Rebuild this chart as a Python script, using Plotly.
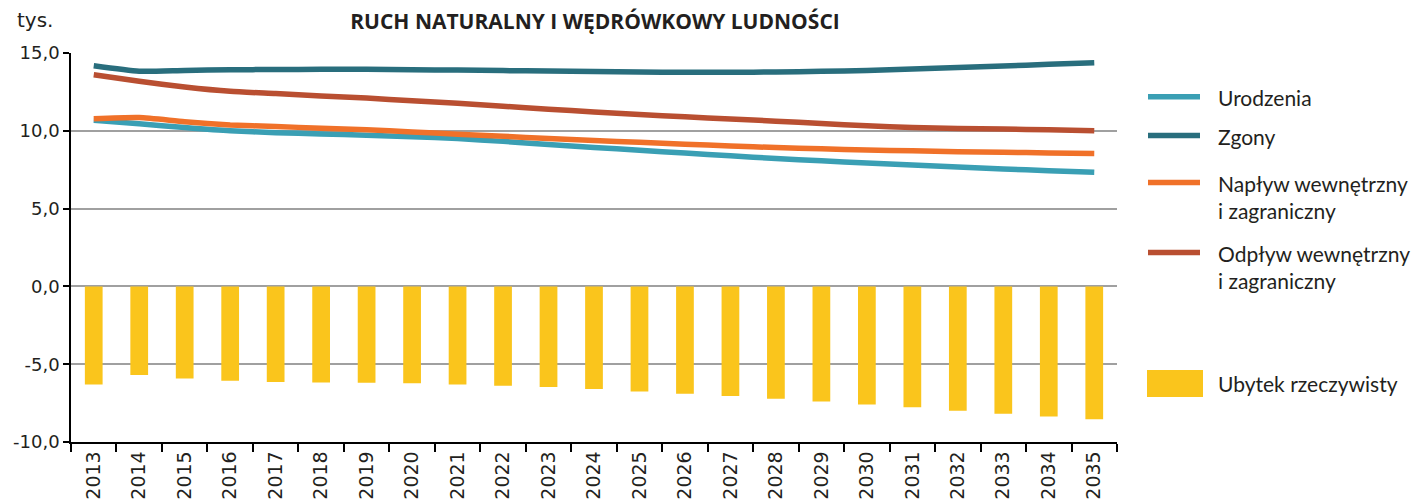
import plotly.graph_objects as go

# Colors
c_urodzenia = 'rgb(58,159,180)'
c_zgony = 'rgb(41,110,125)'
c_naplyw = 'rgb(240,113,41)'
c_odplyw = 'rgb(185,79,49)'
c_ubytek = 'rgb(250,197,28)'
text_color = 'rgb(35,31,32)'

years = [str(y) for y in range(2013, 2036)]

urodzenia = [10.68, 10.45, 10.21, 10.0, 9.88, 9.80, 9.72, 9.62, 9.50, 9.32, 9.12, 8.93,
             8.75, 8.57, 8.39, 8.22, 8.07, 7.93, 7.80, 7.67, 7.55, 7.44, 7.34]
zgony = [14.18, 13.83, 13.88, 13.92, 13.94, 13.95, 13.95, 13.93, 13.90, 13.87, 13.84, 13.81,
         13.78, 13.76, 13.76, 13.78, 13.82, 13.88, 13.97, 14.07, 14.17, 14.27, 14.37]
naplyw = [10.77, 10.85, 10.58, 10.38, 10.27, 10.17, 10.06, 9.93, 9.78, 9.65, 9.50, 9.38,
          9.26, 9.14, 9.03, 8.92, 8.84, 8.77, 8.71, 8.66, 8.62, 8.58, 8.54]
odplyw = [13.60, 13.18, 12.82, 12.54, 12.39, 12.24, 12.10, 11.93, 11.77, 11.58, 11.39, 11.21,
          11.04, 10.90, 10.76, 10.62, 10.47, 10.32, 10.22, 10.15, 10.11, 10.06, 10.00]
ubytek = [-6.30, -5.70, -5.92, -6.07, -6.15, -6.17, -6.20, -6.22, -6.30, -6.39, -6.47, -6.60,
          -6.75, -6.90, -7.05, -7.22, -7.40, -7.59, -7.76, -7.99, -8.19, -8.36, -8.53]

y_ticks = [-10, -5, 0, 5, 10, 15]
y_ticktext = [f'{v:.1f}'.replace('.', ',') for v in y_ticks]

line_series = [
    ('Urodzenia', urodzenia, c_urodzenia),
    ('Zgony', zgony, c_zgony),
    ('Napływ wewnętrzny<br>i zagraniczny', naplyw, c_naplyw),
    ('Odpływ wewnętrzny<br>i zagraniczny', odplyw, c_odplyw),
]

fig = go.Figure()

fig.add_trace(go.Bar(x=years, y=ubytek, name='Ubytek rzeczywisty',
                     marker=dict(color=c_ubytek, line=dict(width=0)), width=0.39))

for name, vals, color in line_series:
    fig.add_trace(go.Scatter(x=years, y=vals, name=name, mode='lines',
                             line=dict(color=color, width=5.5, shape='spline', smoothing=0.6)))

# the page body has an 8px margin, so the figure sits 8px right/down in the window
OFF = 8
X0, X1, Y0, Y1 = 71, 1117, 53, 442  # plot area in window px
def px(x):
    return (x - X0) / (X1 - X0)
def py(y):
    return (Y1 - y) / (Y1 - Y0)

# hand-made legend on the right (pixel spacing of the original)
legend_rows = [(96.7, 0), (135.5, 1), (182.5, 2), (252.5, 3)]
for y, i in legend_rows:
    name, _, color = line_series[i]
    fig.add_shape(type='line', xref='paper', yref='paper',
                  x0=px(1148), x1=px(1200), y0=py(y), y1=py(y),
                  line=dict(color=color, width=5.5))
    fig.add_annotation(xref='paper', yref='paper', x=px(1216), y=py(y - 14),
                       text=name, showarrow=False, xanchor='left', yanchor='top', align='left',
                       font=dict(family='Lato', size=21, color=text_color))
fig.add_shape(type='rect', xref='paper', yref='paper',
              x0=px(1147), x1=px(1203), y0=py(397), y1=py(370),
              fillcolor=c_ubytek, line=dict(width=0))
fig.add_annotation(xref='paper', yref='paper', x=px(1216), y=py(383.5),
                   text='Ubytek rzeczywisty', showarrow=False, xanchor='left', yanchor='middle',
                   font=dict(family='Lato', size=21, color=text_color))

fig.add_annotation(xref='paper', yref='paper', x=px(35), y=py(20), text='tys.',
                   showarrow=False, xanchor='center', yanchor='middle',
                   font=dict(family='DejaVu Sans', size=20, color=text_color))

fig.update_layout(
    width=1422, height=504,
    margin=dict(l=X0 - OFF, r=1422 - (X1 - OFF), t=Y0 - OFF, b=504 - (Y1 - OFF)),
    plot_bgcolor='white', paper_bgcolor='white',
    showlegend=False,
    title=dict(text='<b>RUCH NATURALNY I WĘDRÓWKOWY LUDNOŚCI</b>',
               x=px(595), xref='paper', xanchor='center',
               y=1 - (22 - OFF) / 504, yref='container', yanchor='middle',
               font=dict(family='Open Sans', size=21, color=text_color)),
    bargap=0.61,
    xaxis=dict(
        type='category', automargin=False,
        showline=True, linecolor='black', linewidth=1.5,
        ticks='outside', tickson='boundaries', ticklen=8, tickcolor='black', tickwidth=1.5,
        tickangle=-90, showgrid=False,
        tickfont=dict(family='DejaVu Sans', size=19, color=text_color),
    ),
    yaxis=dict(
        automargin=False,
        range=[-10, 15], tickvals=y_ticks, ticktext=y_ticktext,
        showline=True, linecolor='black', linewidth=1.5,
        ticks='outside', ticklen=6, tickcolor='black', tickwidth=1.5,
        showgrid=True, gridcolor='rgb(160,160,160)', gridwidth=1.5,
        zeroline=True, zerolinecolor='rgb(160,160,160)', zerolinewidth=1.5,
        tickfont=dict(family='DejaVu Sans', size=18, color=text_color),
    ),
)

fig.write_html("out.html")
